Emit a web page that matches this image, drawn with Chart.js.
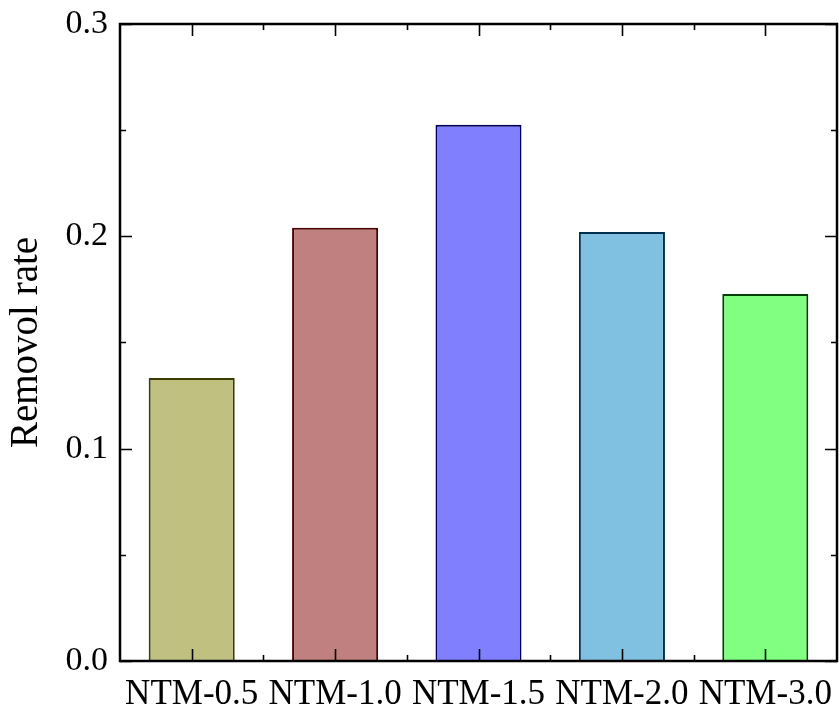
<!DOCTYPE html>
<html>
<head>
<meta charset="utf-8">
<title>Removol rate</title>
<script src="https://cdn.jsdelivr.net/npm/chart.js@4"></script>
<style>
  html, body { margin: 0; padding: 0; background: #fff; }
  #wrap { width: 840px; height: 708px; }
</style>
</head>
<body>
<div id="wrap"><canvas id="bar-chart" width="840" height="708"></canvas></div>
<script>
// samples and their measured removal rate
const samples = ['NTM-0.5', 'NTM-1.0', 'NTM-1.5', 'NTM-2.0', 'NTM-3.0'];
const removalRate = [0.1333, 0.204, 0.2525, 0.202, 0.1728];
const yTicks = [0.0, 0.1, 0.2, 0.3];

const fillColors = ['#C0C080', '#C08080', '#8080FF', '#80C0E0', '#80FF80'];
const edgeColors = ['#3C3C00', '#4A0000', '#00005A', '#003050', '#004000'];

const serif = 'Liberation Serif, Times New Roman, serif';

// frame around the plot plus inward ticks on all four sides
const frameTicks = {
    id: 'frameTicks',
    afterDatasetsDraw(chart) {
        const { ctx, chartArea: a, scales: { x, y } } = chart;
        ctx.save();
        ctx.strokeStyle = '#000';
        ctx.lineWidth = 1.6;
        ctx.beginPath();
        // y ticks, major every 0.1, minor every 0.05
        for (let i = 0; i <= 6; i++) {
            const py = Math.round(y.getPixelForValue(i * 0.05)) + 0.5;
            const len = i % 2 === 0 ? 12 : 6;
            ctx.moveTo(a.left, py); ctx.lineTo(a.left + len, py);
            ctx.moveTo(a.right, py); ctx.lineTo(a.right - len, py);
        }
        // x ticks at category centres, minor ones in between
        for (let i = 0; i < samples.length; i++) {
            const px = Math.round(x.getPixelForValue(i)) + 0.5;
            ctx.moveTo(px, a.bottom); ctx.lineTo(px, a.bottom - 12);
            ctx.moveTo(px, a.top); ctx.lineTo(px, a.top + 12);
            if (i < samples.length - 1) {
                const mx = Math.round((x.getPixelForValue(i) + x.getPixelForValue(i + 1)) / 2) + 0.5;
                ctx.moveTo(mx, a.bottom); ctx.lineTo(mx, a.bottom - 6);
                ctx.moveTo(mx, a.top); ctx.lineTo(mx, a.top + 6);
            }
        }
        ctx.stroke();
        ctx.lineWidth = 2.5;
        ctx.strokeRect(a.left, a.top, a.right - a.left, a.bottom - a.top);
        ctx.restore();
    }
};

new Chart(
    document.getElementById('bar-chart'),
    {
        type: 'bar',
        data: {
            labels: samples,
            datasets: [{
                data: removalRate,
                backgroundColor: fillColors,
                borderColor: edgeColors,
                borderWidth: 2,
                borderSkipped: 'bottom',
                barPercentage: 0.6,
                categoryPercentage: 1.0
            }]
        },
        options: {
            responsive: false,
            animation: false,
            layout: { padding: { top: 24, right: 3, left: 0, bottom: 0 } },
            plugins: {
                legend: { display: false },
                tooltip: { enabled: false }
            },
            scales: {
                x: {
                    grid: { display: false, drawTicks: false },
                    border: { display: false },
                    ticks: {
                        color: '#000',
                        font: { family: serif, size: 35 },
                        padding: 13,
                        maxRotation: 0,
                        autoSkip: false
                    },
                    afterFit(scale) {
                        scale.height = 47;
                        scale.paddingLeft = 0;
                        scale.paddingRight = 0;
                    }
                },
                y: {
                    min: 0,
                    max: 0.3,
                    afterBuildTicks(scale) {
                        scale.ticks = yTicks.map(v => ({ value: v }));
                    },
                    grid: { display: false, drawTicks: false },
                    border: { display: false },
                    ticks: {
                        color: '#000',
                        font: { family: serif, size: 34 },
                        padding: 12,
                        callback: v => Number(v).toFixed(1)
                    },
                    title: {
                        display: true,
                        text: 'Removol rate',
                        color: '#000',
                        font: { family: serif, size: 39 },
                        padding: { top: 3, bottom: 0 }
                    },
                    afterFit(scale) {
                        scale.width = 120;
                        scale.paddingTop = 0;
                        scale.paddingBottom = 0;
                    }
                }
            }
        },
        plugins: [frameTicks]
    }
);
</script>
</body>
</html>
